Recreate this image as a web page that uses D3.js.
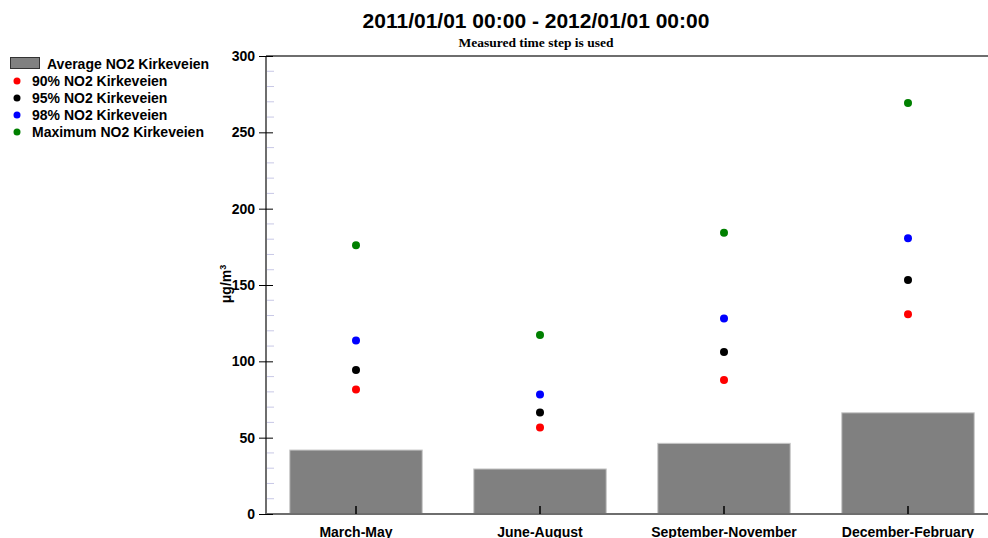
<!DOCTYPE html>
<html lang="en">
<head>
    <meta charset="UTF-8">
    <title>NO2 Kirkeveien seasons</title>
    <script src="https://d3js.org/d3.v7.min.js"></script>
    <style>
        body { margin: 0; background: #fff; font-family: Arial, "Liberation Sans", sans-serif; }
        svg { display: block; }
    </style>
</head>
<body>
<div id="container"></div>
<script>
    // data
    const seasons = ['March-May', 'June-August', 'September-November', 'December-February'];
    const average = [41.9, 29.5, 46.3, 66.3];
    const p90 = [81.5, 56.6, 87.8, 130.8];
    const p95 = [94.3, 66.5, 106.1, 153.2];
    const p98 = [113.6, 78.3, 128, 180.7];
    const maximum = [176, 117.2, 184.3, 269.2];
    const yTicks = [0, 50, 100, 150, 200, 250, 300];

    const series = [
        { name: '90% NO2 Kirkeveien', values: p90, color: '#ff0000' },
        { name: '95% NO2 Kirkeveien', values: p95, color: '#000000' },
        { name: '98% NO2 Kirkeveien', values: p98, color: '#0000ff' },
        { name: 'Maximum NO2 Kirkeveien', values: maximum, color: '#008000' }
    ];

    const width = 988, height = 538;
    const plotLeft = 266, plotTop = 56, plotBottom = 514;

    const svg = d3.select('#container').append('svg')
        .attr('width', width).attr('height', height);

    // band scale runs past the right edge, like the original which is cropped
    const x = d3.scaleBand().domain(seasons).range([264, 1000]).paddingInner(0.28).paddingOuter(0.14);
    const y = d3.scaleLinear().domain([0, 300]).range([plotBottom, plotTop]);

    // title
    svg.append('text').attr('x', 536).attr('y', 28).attr('text-anchor', 'middle')
        .style('font-size', '21px').style('font-weight', 'bold')
        .text('2011/01/01 00:00 - 2012/01/01 00:00');
    svg.append('text').attr('x', 536).attr('y', 47).attr('text-anchor', 'middle')
        .style('font-family', '"Liberation Serif", "DejaVu Serif", serif')
        .style('font-size', '13.5px').style('font-weight', 'bold')
        .text('Measured time step is used');

    // bars
    svg.selectAll('rect.bar').data(seasons).enter().append('rect')
        .attr('class', 'bar')
        .attr('x', d => x(d))
        .attr('y', (d, i) => y(average[i]))
        .attr('width', x.bandwidth())
        .attr('height', (d, i) => plotBottom - y(average[i]))
        .attr('fill', '#808080')
        .attr('stroke', '#c8c8c8').attr('stroke-width', 1);

    // minor ticks
    svg.selectAll('line.minor').data(d3.range(0, 301, 10).filter(v => v % 50 !== 0)).enter().append('line')
        .attr('x1', plotLeft + 1).attr('x2', plotLeft + 8)
        .attr('y1', d => y(d)).attr('y2', d => y(d))
        .attr('stroke', '#c8c8e6').attr('stroke-width', 1);

    // frame lines
    svg.append('line').attr('x1', plotLeft).attr('x2', width).attr('y1', plotTop).attr('y2', plotTop)
        .attr('stroke', '#6e6e6e').attr('stroke-width', 2);
    svg.append('line').attr('x1', plotLeft).attr('x2', width).attr('y1', plotBottom).attr('y2', plotBottom)
        .attr('stroke', '#6e6e6e').attr('stroke-width', 2);

    // y axis
    const yAxis = svg.append('g').attr('transform', `translate(${plotLeft},0)`)
        .call(d3.axisLeft(y).tickValues(yTicks).tickSize(8).tickPadding(3));
    yAxis.select('.domain').attr('stroke', '#6e6e6e').attr('stroke-width', 2)
        .attr('d', `M0,${plotTop}V${plotBottom}`);
    yAxis.selectAll('.tick line').attr('x2', 7).attr('x1', -7).attr('stroke', '#000');
    yAxis.selectAll('.tick text').style('font-size', '14px').style('font-weight', 'bold')
        .style('font-family', 'Arial, "Liberation Sans", sans-serif').attr('fill', '#000');

    // category ticks and labels
    svg.selectAll('line.cat').data(seasons).enter().append('line')
        .attr('x1', d => x(d) + x.bandwidth() / 2).attr('x2', d => x(d) + x.bandwidth() / 2)
        .attr('y1', plotBottom - 8).attr('y2', plotBottom)
        .attr('stroke', '#000').attr('stroke-width', 1.5);
    svg.selectAll('text.cat').data(seasons).enter().append('text')
        .attr('x', d => x(d) + x.bandwidth() / 2).attr('y', 537)
        .attr('text-anchor', 'middle')
        .style('font-size', '14px').style('font-weight', 'bold')
        .text(d => d);

    // y label
    svg.append('text')
        .attr('transform', 'translate(231,284) rotate(-90)')
        .attr('text-anchor', 'middle')
        .style('font-size', '14px').style('font-weight', 'bold')
        .html('μg/m<tspan dy="-5" font-size="9px">3</tspan>');

    // points
    series.forEach(s => {
        svg.selectAll(null).data(seasons).enter().append('circle')
            .attr('cx', d => x(d) + x.bandwidth() / 2)
            .attr('cy', (d, i) => y(s.values[i]))
            .attr('r', 4)
            .attr('fill', s.color);
    });

    // legend
    const legend = svg.append('g');
    legend.append('rect').attr('x', 10.5).attr('y', 57.5).attr('width', 29).attr('height', 11)
        .attr('fill', '#808080').attr('stroke', '#333').attr('stroke-width', 1);
    legend.append('text').attr('x', 47).attr('y', 69)
        .style('font-size', '14px').style('font-weight', 'bold').text('Average NO2 Kirkeveien');
    series.forEach((s, i) => {
        legend.append('circle').attr('cx', 17).attr('cy', 81 + i * 17).attr('r', 3.5).attr('fill', s.color);
        legend.append('text').attr('x', 32).attr('y', 86 + i * 17)
            .style('font-size', '14px').style('font-weight', 'bold').text(s.name);
    });
</script>
</body>
</html>
